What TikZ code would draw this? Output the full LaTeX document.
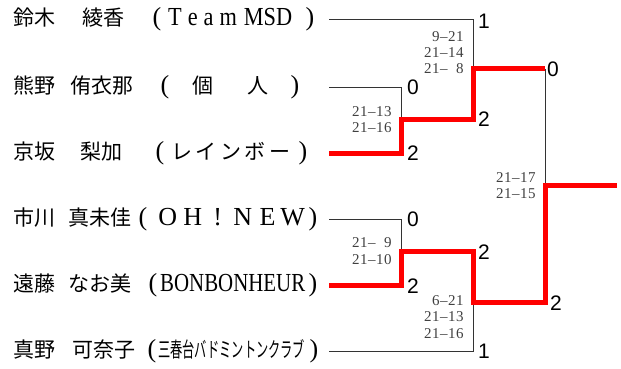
\documentclass[tikz,border=0pt]{standalone}
\usepackage{graphicx}
\usepackage{fontspec}
\setmainfont{Liberation Serif}
\newfontfamily\cjk{Noto Sans CJK JP}
\newfontfamily\numfont{Liberation Sans}
\newfontfamily\scfont{Liberation Serif}
\newlength\cellw
\setlength\cellw{8pt}
\def\cells#1{\ifx#1\relax\else\makebox[\cellw]{#1}\expandafter\cells\fi}
\definecolor{winred}{RGB}{255,0,0}
\tikzset{
  loser/.style={draw=black!80, line width=1pt},
  winner/.style={draw=winred, line width=5pt},
  jp/.style={inner sep=0pt, anchor=base west, font=\cjk\fontsize{21}{25}\selectfont},
  lat/.style={inner sep=0pt, anchor=base west, font=\fontsize{26}{30}\selectfont},
  par/.style={inner sep=0pt, anchor=base, font=\fontsize{26}{30}\selectfont},
  res/.style={inner sep=0pt, font=\numfont\fontsize{21}{25}\selectfont},
  sc/.style={inner sep=0pt, anchor=east, text=black!75, font=\scfont\fontsize{15}{16}\selectfont},
}
\begin{document}
\begin{tikzpicture}[x=1pt,y=-1pt]
\useasboundingbox (0,0) rectangle (621,369);
% bracket points
\coordinate (s1) at (329,20);
\coordinate (s2) at (329,87);
\coordinate (s3) at (329,153);
\coordinate (s4) at (329,219);
\coordinate (s5) at (329,285);
\coordinate (s6) at (329,351);
\coordinate (a) at (401,119);
\coordinate (b) at (401,251);
\coordinate (c) at (473,69);
\coordinate (d) at (473,302);
\coordinate (f) at (545,185);
\coordinate (champ) at (617,185);
% losing lines
\draw[loser] (s1) -| (c);
\draw[loser] (s2) -| (a);
\draw[loser] (s4) -| (b);
\draw[loser] (s6) -| (d);
\draw[loser] (c -| f) -- (f);
% winning lines
\draw[winner] (s3) -| (a) -- (a -| c) |- (c -| f);
\draw[winner] (s5) -| (b) -- (b -| d) |- (d -| f) |- (champ);
% names
\node[jp] (n1a) at (13,26) {鈴木};
\node[jp] (n1b) at (82,26) {綾香};
\node[par] (n1o) at (157,26) {(};
\node[lat] (n1t) at (168,26) {\resizebox{124pt}{\height}{T\hspace{7pt}e\hspace{7pt}a\hspace{7pt}m\hspace{8pt}MSD}};
\node[par] (n1c) at (310,26) {)};
\node[jp] (n2a) at (13,93) {熊野};
\node[jp] (n2b) at (70,93) {侑衣那};
\node[par] (n2o) at (165,93) {(};
\node[jp, anchor=base] (n2t) at (203,93) {個};
\node[jp, anchor=base] (n2u) at (258,93) {人};
\node[par] (n2c) at (295,93) {)};
\node[jp] (n3a) at (13,159) {京坂};
\node[jp] (n3b) at (80,159) {梨加};
\node[par] (n3o) at (160,159) {(};
\node[jp] (n3t) at (169,159) {\setlength\cellw{24.6pt}\cells レインボー\relax};
\node[par] (n3c) at (303,159) {)};
\node[jp] (n4a) at (13,225) {市川};
\node[jp] (n4b) at (68,225) {真未佳};
\node[par] (n4o) at (143,225) {(};
\node[lat] (n4t) at (155,225) {\setlength\cellw{25pt}\cells OH!NEW\relax};
\node[par] (n4c) at (313,225) {)};
\node[jp] (n5a) at (13,291) {遠藤};
\node[jp] (n5b) at (68,291) {なお美};
\node[par] (n5o) at (153,291) {(};
\node[lat] (n5t) at (160,291) {\resizebox{145pt}{\height}{BONBONHEUR}};
\node[par] (n5c) at (313,291) {)};
\node[jp] (n6a) at (13,357) {真野};
\node[jp] (n6b) at (72,357) {可奈子};
\node[par] (n6o) at (152,357) {(};
\node[jp] (n6t) at (158,357) {\resizebox{147pt}{\height}{三春台バドミントンクラブ}};
\node[par] (n6c) at (314,357) {)};
% results
\node[res] (r1) at (484,21) {1};
\node[res] (r2) at (413,87) {0};
\node[res] (r3) at (413,153) {2};
\node[res] (r4) at (413,219) {0};
\node[res] (r5) at (413,286) {2};
\node[res] (r6) at (484,351) {1};
\node[res] (rA) at (484,119) {2};
\node[res] (rB) at (484,252) {2};
\node[res] (rC) at (553,69) {0};
\node[res] (rD) at (556,303) {2};
% scores
\node[sc] (sa1) at (392,112) {\cells 21–13\relax};
\node[sc] (sa2) at (392,128) {\cells 21–16\relax};
\node[sc] (sb1) at (392,243) {\cells 21–~9\relax};
\node[sc] (sb2) at (392,260) {\cells 21–10\relax};
\node[sc] (sc1) at (464,37) {\cells 9–21\relax};
\node[sc] (sc2) at (464,53) {\cells 21–14\relax};
\node[sc] (sc3) at (464,69) {\cells 21–~8\relax};
\node[sc] (sd1) at (464,301) {\cells 6–21\relax};
\node[sc] (sd2) at (464,317) {\cells 21–13\relax};
\node[sc] (sd3) at (464,334) {\cells 21–16\relax};
\node[sc] (sf1) at (536,178) {\cells 21–17\relax};
\node[sc] (sf2) at (536,194) {\cells 21–15\relax};
\end{tikzpicture}
\end{document}
